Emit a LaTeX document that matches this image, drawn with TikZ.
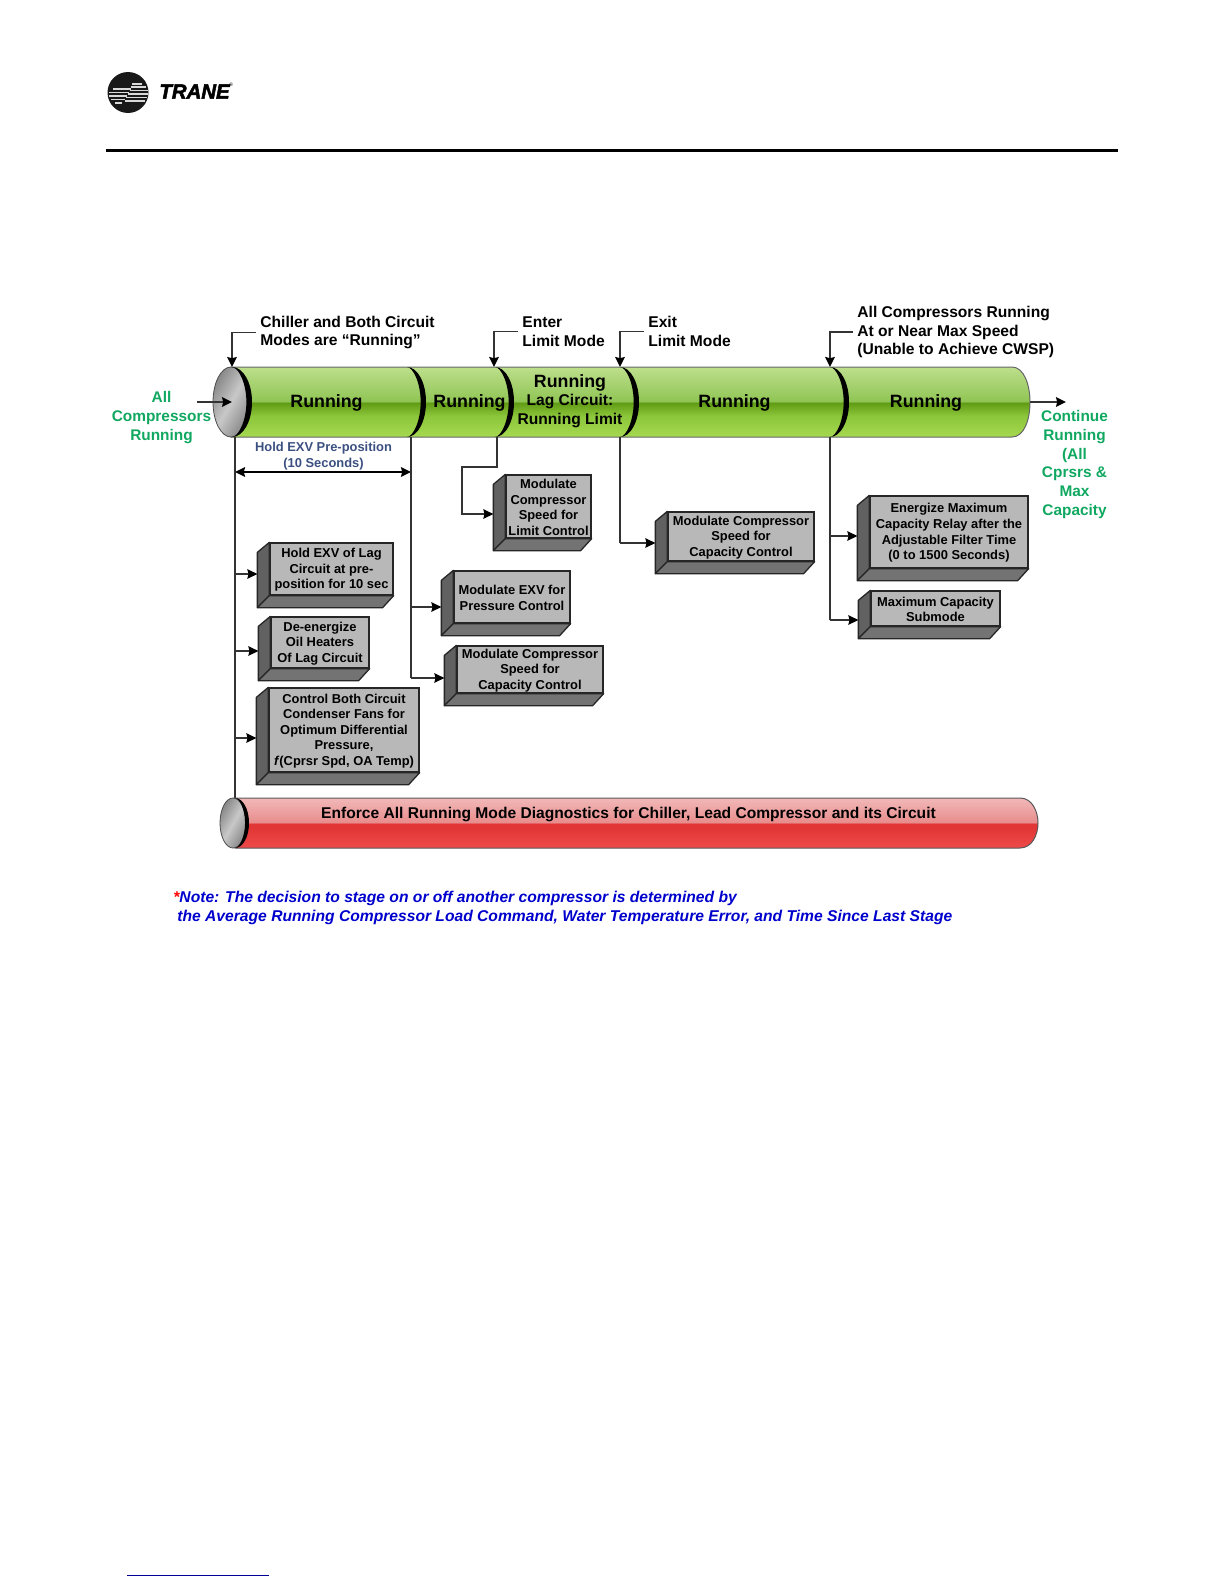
\documentclass[tikz,border=0pt]{standalone}
\usepackage{fontspec}
\setmainfont{Liberation Sans}
\newfontfamily\brandfont{Liberation Sans}[UprightFont=* Bold Italic, FakeBold=2.5]
\usepackage{xcolor}
\usetikzlibrary{arrows.meta,calc,positioning,fit}

\definecolor{barTop}{HTML}{BEDF8C}
\definecolor{barMid}{HTML}{8FC554}
\definecolor{barDark}{HTML}{5F9A14}
\definecolor{barLow}{HTML}{8CC63A}
\definecolor{barEnd}{HTML}{A5D950}
\definecolor{redTop}{HTML}{F2B8B8}
\definecolor{redMid}{HTML}{E88C8C}
\definecolor{redDark}{HTML}{E23636}
\definecolor{redEnd}{HTML}{EE4A4A}
\definecolor{capLight}{HTML}{C8C8C8}
\definecolor{capDark}{HTML}{868686}
\definecolor{statusGreen}{HTML}{10A860}
\definecolor{spanBlue}{HTML}{3B5080}
\definecolor{noteBlue}{HTML}{0000CC}

\pgfdeclareverticalshading{greenbar}{100bp}{color(0bp)=(barEnd); color(25bp)=(barEnd); color(40bp)=(barLow);
  color(49.7bp)=(barDark); color(50.3bp)=(barMid); color(75bp)=(barTop); color(100bp)=(barTop)}
\pgfdeclareverticalshading{redbar}{100bp}{color(0bp)=(redEnd); color(25bp)=(redEnd); color(45bp)=(redDark);
  color(49.7bp)=(redDark); color(50.3bp)=(redMid); color(75bp)=(redTop); color(100bp)=(redTop)}

\tikzset{
  flow/.style={draw=black!80, line width=0.75pt, -{Stealth[length=5pt,width=4.8pt,inset=0.6pt,black]}},
  stem/.style={draw=black!80, line width=0.7pt},
  frontface/.style={draw=black!85, line width=0.65pt, fill=black!28, inner sep=0pt},
  boxtext/.style={align=center, inner sep=0pt, font=\fontsize{6.45}{7.8}\selectfont\bfseries},
  sideface/.style={draw=black!85, line width=0.65pt, fill=black!62, line join=round},
  lowface/.style={draw=black!85, line width=0.65pt, fill=black!55, line join=round},
  toplabel/.style={anchor=west, align=left, inner sep=2pt, font=\fontsize{7.8}{9.35}\selectfont\bfseries},
  barlabel/.style={align=center, inner sep=0pt, font=\fontsize{8.9}{10}\selectfont\bfseries},
  statuslabel/.style={align=center, inner sep=0pt, text=statusGreen, font=\fontsize{7.7}{9.35}\selectfont\bfseries}
}

% box with a raised left and lower face: name, top left, lower right, text
\newcommand{\raisedbox}[4]{
  \node[frontface, fit={(#2) (#3)}] (#1) {};
  \draw[sideface] (#1.north west) -- ++(-12,10) -- ($(#1.south west)+(-12,12)$) -- (#1.south west) -- cycle;
  \draw[lowface] (#1.south west) -- ++(-12,12) -- ($(#1.south east)+(-11,12)$) -- (#1.south east) -- cycle;
  \node[boxtext] (#1text) at ($(#1.center)+(0,1)$) {#4};
}
% tap from a vertical stem into the side of a box
\newcommand{\tapbox}[3]{
  \coordinate (#2in) at ($(#2.west)+(-12,#3)$);
  \draw[flow] (#1 |- #2in) -- (#2in);
}
% black crescent across a bar
\newcommand{\bandarc}[4]{
  \fill[black] (#1,#2) .. controls ({#1+0.55*#4},#2) and ({#1+#4},{(#2+#3)/2-0.28*(#3-#2)}) .. ({#1+#4},{(#2+#3)/2})
    .. controls ({#1+#4},{(#2+#3)/2+0.28*(#3-#2)}) and ({#1+0.55*#4},#3) .. (#1,#3)
    .. controls ({#1+0.3*#4},#3) and ({#1+0.72*#4},{(#2+#3)/2+0.28*(#3-#2)}) .. ({#1+0.72*#4},{(#2+#3)/2})
    .. controls ({#1+0.72*#4},{(#2+#3)/2-0.28*(#3-#2)}) and ({#1+0.3*#4},#2) .. (#1,#2) -- cycle;
}

\begin{document}
\begin{tikzpicture}[x=0.5pt,y=-0.5pt,>=Stealth]
\useasboundingbox (0,0) rectangle (1224,1584);

% =========================================================
% Page furniture
% =========================================================
\fill[black!90] (128,92.5) circle (20.5);
\foreach \yy/\aa/\bb in {89/113/131,92.5/109/129,96/109/127,99.5/111/125,103/115/122} {
  \draw[white!85!black, line width=0.55pt] (\aa,\yy) -- (\bb,\yy);
}
\foreach \yy/\aa/\bb in {84/132/142,87/131/146,90.5/130/148,94/128/148,97.5/126/147,101/125/145} {
  \draw[white!85!black, line width=0.55pt] (\aa,\yy) -- (\bb,\yy);
}
\node[anchor=west, inner sep=0pt, font=\fontsize{10.2}{12}\selectfont\brandfont] (brand) at (159,91.5) {TRANE};
\node[anchor=west, inner sep=0pt, font=\fontsize{2.5}{3}\selectfont] (brandmark) at (229,85) {®};
\draw[black, line width=1.5pt] (106,150) -- (1118,150);
\draw[blue!60!black, line width=0.5pt] (127,1575) -- (269,1575);

% =========================================================
% Running bar
% =========================================================
\shade[shading=greenbar, draw=black!60, line width=0.5pt] (231,367) -- (1012,367)
  .. controls (1024,367) and (1030,385) .. (1030,402)
  .. controls (1030,420) and (1024,437) .. (1012,437) -- (231,437) -- cycle;
\foreach \x in {407,495,620,830} {
  \bandarc{\x}{367}{437}{19}
}
\shade[left color=capDark, right color=capDark, middle color=capLight, shading angle=60, draw=black!70, line width=0.4pt]
  (231,402) ellipse [x radius=18,y radius=35];
\bandarc{232}{367}{437}{20}

\node[barlabel] (runA) at (326.5,403) {Running};
\node[barlabel] (runB) at (469.5,403) {Running};
\node[barlabel] (runC) at (570,383) {Running};
\node[toplabel, anchor=center, align=center, inner sep=0pt] (lagC) at (570,411) {Lag Circuit:\\Running Limit};
\node[barlabel] (runD) at (734.5,403) {Running};
\node[barlabel] (runE) at (926,403) {Running};

% Entry and exit
\node[statuslabel] (allrun) at (161.5,417.5) {All\\Compressors\\Running};
\coordinate (capmid) at (232,402);
\coordinate (allfrom) at (197,402);
\draw[flow] (allfrom) -- (capmid);
\node[statuslabel] (contrun) at (1074.5,464.5) {Continue\\Running\\(All\\Cprsrs \&\\Max\\Capacity};
\coordinate (barend) at (1030,402);
\coordinate (contto) at (1066,402);
\draw[flow] (barend) -- (contto);

% =========================================================
% Callouts over the bar
% =========================================================
\node[toplabel] (noteA) at (256,332.5) {Chiller and Both Circuit\\Modes are “Running”};
\node[toplabel] (noteB) at (518,331.5) {Enter\\Limit Mode};
\node[toplabel] (noteC) at (644,331.5) {Exit\\Limit Mode};
\node[toplabel] (noteD) at (853,332) {All Compressors Running\\At or Near Max Speed\\(Unable to Achieve CWSP)};

\coordinate (topA) at (232,367);
\coordinate (topB) at (494,367);
\coordinate (topC) at (620,367);
\coordinate (topD) at (830,367);
\foreach \nm/\tp in {noteA/topA,noteB/topB,noteC/topC,noteD/topD} {
  \draw[flow] (\nm.west) -| (\tp);
}

% =========================================================
% Stems and span
% =========================================================
\coordinate (stemA) at (235,437);
\coordinate (stemB) at (411,437);
\coordinate (stemC) at (497,437);
\coordinate (stemD) at (620,437);
\coordinate (stemE) at (830,437);
\coordinate (stemAend) at (235,798);
\coordinate (stemBend) at (411,678);
\coordinate (stemDend) at (620,543);
\coordinate (stemEend) at (830,620);

\draw[stem] (stemA) -- (stemAend);
\draw[stem] (stemB) -- (stemBend);
\draw[stem] (stemD) -- (stemDend);
\draw[stem] (stemE) -- (stemEend);

\node[align=center, inner sep=0pt, text=spanBlue, font=\fontsize{6.45}{7.9}\selectfont\bfseries] (holdspan) at (323.5,456) {Hold EXV Pre-position\\(10 Seconds)};
\coordinate (spanL) at (235,472);
\coordinate (spanR) at (411,472);
\draw[black, line width=0.75pt, {Stealth[length=5pt,width=4.8pt,inset=0.6pt]}-{Stealth[length=5pt,width=4.8pt,inset=0.6pt]}] (spanL) -- (spanR);

% =========================================================
% Boxes
% =========================================================
\raisedbox{holdexv}{270,543}{393,595}{Hold EXV of Lag\\Circuit at pre-\\position for 10 sec}
\raisedbox{oilheat}{271,617}{369,668}{De-energize\\Oil Heaters\\Of Lag Circuit}
\raisedbox{fanctl}{269,688}{419,772}{Control Both Circuit\\Condenser Fans for\\Optimum Differential\\Pressure,\\\textit{f}(Cprsr Spd, OA Temp)}
\raisedbox{exvctl}{454,571}{570,623}{Modulate EXV for\\Pressure Control}
\raisedbox{spdcap}{457,646}{603,693}{Modulate Compressor\\Speed for\\Capacity Control}
\raisedbox{spdlim}{506,475}{591,538}{Modulate\\Compressor\\Speed for\\Limit Control}
\raisedbox{spdrun}{668,512}{814,561}{Modulate Compressor\\Speed for\\Capacity Control}
\raisedbox{relay}{870,496}{1028,568}{Energize Maximum\\Capacity Relay after the\\Adjustable Filter Time\\(0 to 1500 Seconds)}
\raisedbox{maxsub}{871,591}{1000,626}{Maximum Capacity\\Submode}

\tapbox{stemA}{holdexv}{5}
\tapbox{stemA}{oilheat}{8.5}
\tapbox{stemA}{fanctl}{8}
\tapbox{stemB}{exvctl}{10}
\tapbox{stemB}{spdcap}{8.5}
\tapbox{stemD}{spdrun}{6.5}
\tapbox{stemE}{relay}{4}
\tapbox{stemE}{maxsub}{11.5}

% Limit control feed with its jog
\coordinate (spdlimin) at ($(spdlim.west)+(-12,7.5)$);
\coordinate (jogA) at (497,467);
\coordinate (jogB) at (462,467);
\draw[flow] (stemC) -- (jogA) -- (jogB) |- (spdlimin);

% =========================================================
% Diagnostics bar
% =========================================================
\shade[shading=redbar, draw=black!65, line width=0.5pt] (235,798) -- (1020,798)
  .. controls (1032,798) and (1038,811) .. (1038,823)
  .. controls (1038,835) and (1032,848) .. (1020,848) -- (235,848) -- cycle;
\shade[left color=capDark, right color=capDark, middle color=capLight, shading angle=60, draw=black!70, line width=0.4pt]
  (233,823) ellipse [x radius=13,y radius=25];
\bandarc{235}{798}{848}{14}
\node[inner sep=0pt, font=\fontsize{7.8}{9}\selectfont\bfseries] (diag) at (628.5,814) {Enforce All Running Mode Diagnostics for Chiller, Lead Compressor and its Circuit};

% =========================================================
% Note
% =========================================================
\node[anchor=north west, inner sep=0pt, align=left, text=noteBlue, font=\fontsize{7.82}{9.4}\selectfont\bfseries\itshape] (stagenote) at (173,891)
  {\textcolor{red}{*}Note: The decision to stage on or off another compressor is determined by\\
  \hspace{2pt}the Average Running Compressor Load Command, Water Temperature Error, and Time Since Last Stage};

\end{tikzpicture}
\end{document}
